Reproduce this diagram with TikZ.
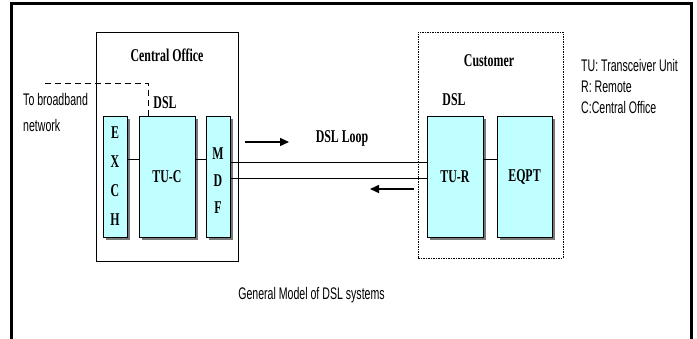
\documentclass[tikz,border=0pt]{standalone}
\usepackage{fontspec}
\usetikzlibrary{arrows.meta,shadows,calc}
\newfontfamily\serifc[FakeStretch=0.66]{Liberation Serif}
\newfontfamily\sansc[FakeStretch=0.63]{Liberation Sans}
\definecolor{boxcyan}{RGB}{192,255,255}
\definecolor{shadowgray}{RGB}{120,120,120}
\tikzset{
  unitbox/.style={draw=black, line width=1pt, fill=boxcyan, minimum height=121pt, inner sep=0pt,
    drop shadow={shadow xshift=3pt, shadow yshift=-3pt, fill=shadowgray, opacity=1}},
  sertext/.style={font=\serifc\bfseries\fontsize{18}{20}\selectfont, inner sep=0pt},
  santext/.style={font=\sansc\fontsize{16.8}{21}\selectfont, inner sep=0pt, align=left},
  wire/.style={line width=1pt},
  flowarrow/.style={line width=1.5pt, -{Triangle[length=9pt,width=8pt]}},
  sitebox/.style={line width=1pt, inner sep=0pt},
}
\begin{document}
\begin{tikzpicture}[x=1pt,y=-1pt]
\useasboundingbox (0,0) rectangle (697,338);
% outer frame
\draw[line width=2.8pt] (11.7,345) -- (11.7,3.3) -- (691.7,3.3) -- (691.7,345);
% site boxes
\node[sitebox, draw=black, fill=white, minimum width=142pt, minimum height=229pt,
  drop shadow={shadow xshift=1.2pt, shadow yshift=-1.2pt, fill=shadowgray, opacity=1}] (co) at (167,146.5) {};
\node[sitebox, draw=black, dash pattern=on 2pt off 1pt on 1pt off 1pt, minimum width=145pt, minimum height=226pt] (cust) at (490.5,145) {};
% units
\node[unitbox, sertext, minimum width=24pt, align=center, font=\serifc\bfseries\fontsize{18}{29}\selectfont] (exch) at (115,176.5) {E\\X\\C\\H};
\node[unitbox, sertext, minimum width=56pt] (tuc) at (167,176.5) {TU-C};
\node[unitbox, minimum width=24pt] (mdf) at (218,176.5) {};
\node[sertext, align=center, font=\serifc\bfseries\fontsize{18}{27}\selectfont] (mdft) at (218,181) {M\\D\\F};
\node[unitbox, sertext, minimum width=56pt] (tur) at (455,176.5) {TU-R};
\node[unitbox, sertext, minimum width=55pt] (eqpt) at (524.5,176.5) {EQPT};
% wire levels
\coordinate (lvA) at (0,159);
\coordinate (lvB) at (0,162);
\coordinate (lvC) at (0,178);
\draw[wire] (exch.east |- lvA) -- (tuc.west |- lvA);
\draw[wire] (tuc.east |- lvA) -- (mdf.west |- lvA);
\draw[wire] (tur.east |- lvA) -- (eqpt.west |- lvA);
\draw[wire] (mdf.east |- lvB) -- (tur.west |- lvB);
\draw[wire] (mdf.east |- lvC) -- (tur.west |- lvC);
% broadband dashed link
\coordinate (bb) at (45,83);
\draw[line width=1pt, dash pattern=on 6pt off 4pt] (bb) -| ($(tuc.north west)+(10,0)$);
% arrows
\coordinate (a1s) at (245,142);
\coordinate (a1e) at (289,142);
\coordinate (a2s) at (414,189);
\coordinate (a2e) at (370,189);
\draw[flowarrow] (a1s) -- (a1e);
\draw[flowarrow] (a2s) -- (a2e);
% labels
\node[sertext] (colabel) at (167,55) {Central Office};
\node[sertext] (codsl) at (165,103) {DSL};
\node[sertext] (custlabel) at (489,61) {Customer};
\node[sertext] (custdsl) at (454,100) {DSL};
\node[sertext] (looplabel) at (342,138) {DSL Loop};
\node[santext, anchor=west, font=\sansc\fontsize{16.8}{26}\selectfont] (bbtext) at (23,112.5) {To broadband\\network};
\node[santext, anchor=west] (legend) at (581,86) {TU: Transceiver Unit\\R: Remote\\C:Central Office};
\node[santext] (caption) at (311.5,295) {General Model of DSL systems};
\end{tikzpicture}
\end{document}
